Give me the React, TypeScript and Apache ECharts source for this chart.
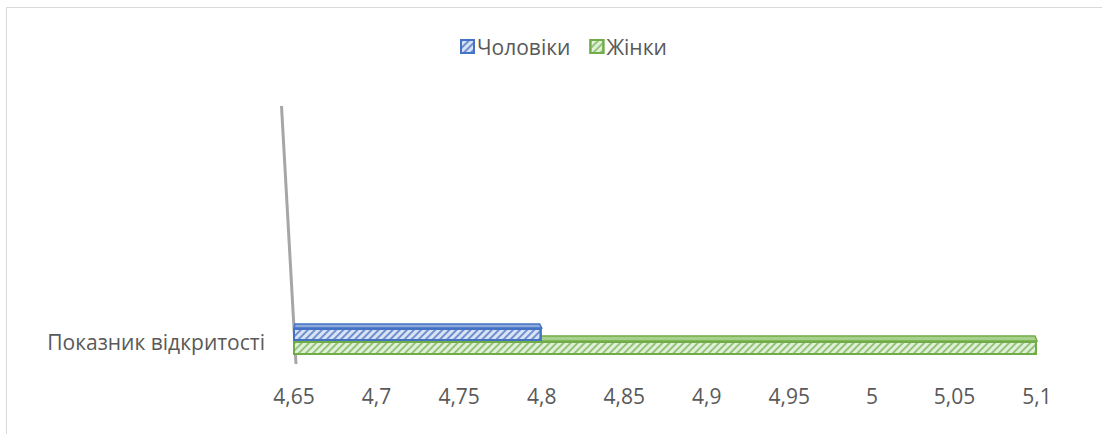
import React, { useEffect, useRef } from "react";
import * as echarts from "echarts";

const categories = ["Показник відкритості"];
const seriesNames = ["Чоловіки", "Жінки"];
const menValues = [4.8];
const womenValues = [5.1];
const axisMin = 4.65;
const axisMax = 5.1;
const axisInterval = 0.05;

const FONT = "'Open Sans', 'Noto Sans', sans-serif";

function fmt(v: number): string {
  const s = parseFloat(v.toFixed(2)).toString();
  return s.replace(".", ",");
}

export default function App() {
  const ref = useRef<HTMLDivElement>(null);
  useEffect(() => {
    if (!ref.current) return;
    const chart = echarts.init(ref.current, undefined, { renderer: "svg" });
    // top (3D) faces of the bars, positioned from the data through the axes
    const topFace = (fill: string, stroke: string, seriesIdx: number, z: number) => ({
      type: "custom",
      coordinateSystem: "cartesian2d",
      encode: { x: 0, y: 1 },
      silent: true,
      z: z,
      renderItem: (params: any, api: any) => {
        const v = api.value(0);
        const cat = api.value(1);
        const p0 = api.coord([axisMin, cat]);
        const p1 = api.coord([v, cat]);
        const yb = seriesIdx === 0 ? p0[1] - 13.5 : p0[1] - 0.5;
        const yt = seriesIdx === 0 ? yb - 4 : yb - 5;
        return {
          type: "polygon",
          shape: {
            points: [
              [p0[0], yb],
              [p0[0] + 1, yt],
              [p1[0] - 2, yt],
              [p1[0], yb],
            ],
          },
          style: { fill: fill, stroke: stroke, lineWidth: 1.5 },
        };
      },
      data: (seriesIdx === 0 ? menValues : womenValues).map((v, i) => [v, i]),
    });
    chart.setOption({
      animation: false,
      legend: {
        data: seriesNames,
        left: 455,
        top: 31,
        itemWidth: 13,
        itemHeight: 13,
        itemGap: 19,
        textStyle: { fontFamily: FONT, fontSize: 21, color: "#595959", padding: [0, 0, 0, -2] },
        icon: "rect",
      },
      grid: { left: 294, right: 65, top: 312, height: 59, containLabel: false },
      xAxis: {
        type: "value",
        min: axisMin,
        max: axisMax,
        interval: axisInterval,
        axisLine: { show: false },
        axisTick: { show: false },
        splitLine: { show: false },
        axisLabel: {
          formatter: (v: number) => fmt(v),
          fontFamily: FONT,
          fontSize: 21,
          color: "#595959",
          margin: 14,
        },
      },
      yAxis: {
        type: "category",
        data: categories,
        axisLine: { show: false },
        axisTick: { show: false },
        axisLabel: {
          fontFamily: FONT,
          fontSize: 21,
          color: "#595959",
          margin: 29,
          padding: [0, 0, 10, 0],
        },
        inverse: true,
      },
      series: [
        {
          name: seriesNames[0],
          type: "bar",
          data: menValues,
          barWidth: 13,
          barGap: "0%",
          z: 3,
          itemStyle: {
            color: "#dae3f3",
            borderColor: "#4472c4",
            borderWidth: 2,
            decal: {
              symbol: "rect",
              color: "#6f90d0",
              dashArrayX: [1, 0],
              dashArrayY: [1.2, 2.2],
              rotation: -Math.PI / 4,
            },
          },
        },
        {
          name: seriesNames[1],
          type: "bar",
          data: womenValues,
          barWidth: 14,
          barGap: "0%",
          z: 3,
          itemStyle: {
            color: "#e2f0d9",
            borderColor: "#70ad47",
            borderWidth: 2,
            decal: {
              symbol: "rect",
              color: "#93c47a",
              dashArrayX: [1, 0],
              dashArrayY: [1.2, 2.2],
              rotation: -Math.PI / 4,
            },
          },
        },
        topFace("#8faadc", "#4472c4", 0, 4),
        topFace("#a9d18e", "#70ad47", 1, 2),
      ],
      graphic: [
        {
          type: "rect",
          shape: { x: 6.5, y: 7.5, width: 1200, height: 600 },
          style: { fill: "none", stroke: "#d9d9d9", lineWidth: 1 },
          silent: true,
        },
        {
          type: "line",
          shape: { x1: 281.5, y1: 106, x2: 296, y2: 364 },
          style: { stroke: "#a6a6a6", lineWidth: 3 },
          silent: true,
          z: -1,
        },
      ],
    });
    return () => chart.dispose();
  }, []);
  return (
    <div
      ref={ref}
      style={{ position: "fixed", left: 0, top: 0, width: 1102, height: 434, background: "#fff" }}
    />
  );
}
